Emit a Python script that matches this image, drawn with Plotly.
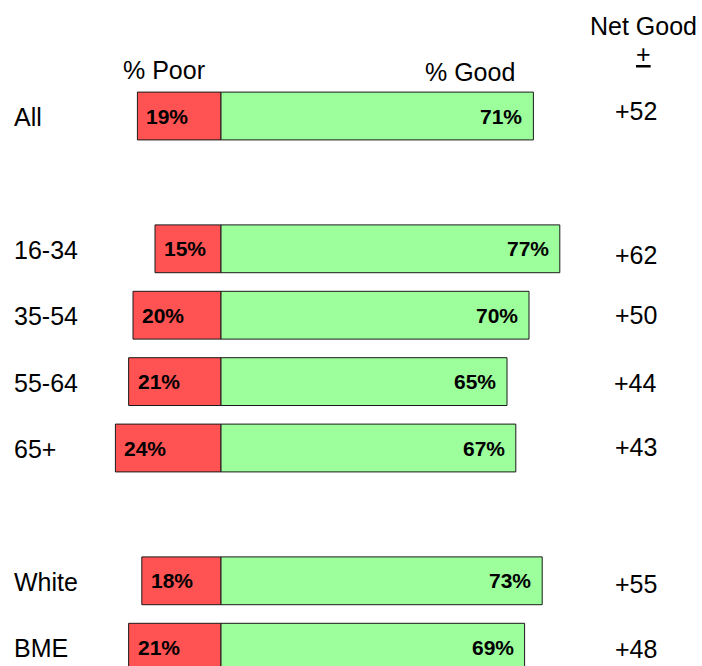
import plotly.graph_objects as go

# Survey results: share rating "Poor" vs "Good", by group
groups = ["All", "16-34", "35-54", "55-64", "65+", "White", "BME"]
rows = [0, 2, 3, 4, 5, 7, 8]          # slot in the layout (blank slots separate sections)
poor = [19, 15, 20, 21, 24, 18, 21]
good = [71, 77, 70, 65, 67, 73, 69]
net = [52, 62, 50, 44, 43, 55, 48]
net_shift = [5, -6, 0, -1, 1, -3, -2]  # small vertical nudges for net labels (px)

RED = "#FF5252"
GREEN = "#9CFF9C"
EDGE = "#1a1a1a"
FONT = "Liberation Sans, Arial, sans-serif"

fig = go.Figure()
fig.add_trace(go.Bar(
    y=rows, x=[-p for p in poor], orientation="h", width=0.72,
    marker=dict(color=RED, line=dict(color=EDGE, width=1)),
    hoverinfo="skip",
))
fig.add_trace(go.Bar(
    y=rows, x=good, orientation="h", width=0.72,
    marker=dict(color=GREEN, line=dict(color=EDGE, width=1)),
    hoverinfo="skip",
))

ann = []
for r, g, p, q, n, s in zip(rows, groups, poor, good, net, net_shift):
    ann.append(dict(x=0, xref="paper", y=r, yref="y", text=g, showarrow=False,
                    xanchor="left", xshift=12, yshift=-1,
                    font=dict(size=25, color="black", family=FONT)))
    ann.append(dict(x=-p, y=r, text=f"<b>{p}%</b>", showarrow=False,
                    xanchor="left", xshift=7, font=dict(size=21, color="black", family=FONT)))
    ann.append(dict(x=q, y=r, text=f"<b>{q}%</b>", showarrow=False,
                    xanchor="right", xshift=-9, font=dict(size=21, color="black", family=FONT)))
    ann.append(dict(x=94.3, y=r, text=f"+{n}", showarrow=False, yshift=s,
                    xanchor="center", font=dict(size=25, color="black", family=FONT)))

# Column headers
ann += [
    dict(x=-13, y=-0.7, text="% Poor", showarrow=False, xanchor="center",
         font=dict(size=25, color="black", family=FONT)),
    dict(x=56.5, y=-0.66, text="% Good", showarrow=False, xanchor="center",
         font=dict(size=25, color="black", family=FONT)),
    dict(x=96, y=-1.35, text="Net Good", showarrow=False, xanchor="center",
         font=dict(size=25, color="black", family=FONT)),
    dict(x=96, y=-0.93, text="<u>+</u>", showarrow=False, xanchor="center",
         font=dict(size=25, color="black", family=FONT)),
]

fig.update_layout(
    width=702, height=666,
    margin=dict(l=0, r=0, t=0, b=0),
    paper_bgcolor="white", plot_bgcolor="white",
    barmode="relative", showlegend=False,
    xaxis=dict(range=[-50.23, 109.32], visible=False, fixedrange=True),
    yaxis=dict(range=[8.283, -1.747], visible=False, fixedrange=True),
    annotations=ann,
)

fig.write_html("out.html")
